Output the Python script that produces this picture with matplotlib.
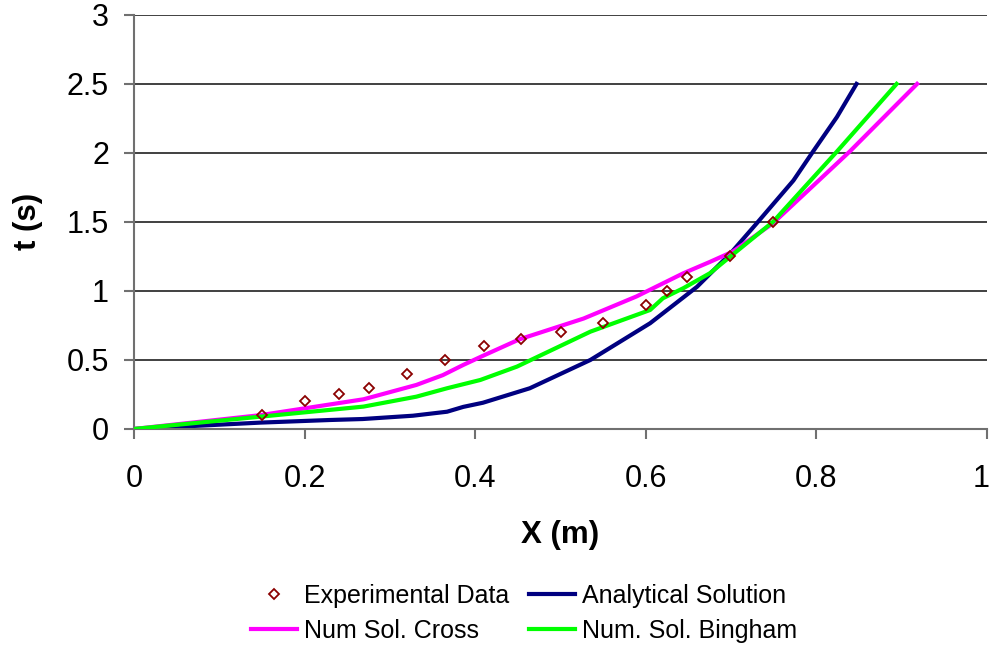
import matplotlib
matplotlib.use("Agg")
import matplotlib.pyplot as plt
import matplotlib.transforms as mtransforms

plt.rcParams['font.family'] = ['Liberation Sans', 'DejaVu Sans']

# Experimental data
exp_x = [0.15, 0.2, 0.24, 0.275, 0.32, 0.365, 0.41, 0.454, 0.5, 0.55, 0.6, 0.625, 0.648, 0.699, 0.749]
exp_t = [0.1, 0.2, 0.25, 0.3, 0.4, 0.5, 0.6, 0.65, 0.7, 0.77, 0.9, 1.0, 1.1, 1.25, 1.5]

# Analytical solution
ana_x = [0, 0.148, 0.23, 0.268, 0.327, 0.367, 0.386, 0.409, 0.464, 0.535, 0.605, 0.66, 0.699,
         0.730, 0.773, 0.796, 0.824, 0.847]
ana_t = [0, 0.046, 0.065, 0.072, 0.096, 0.125, 0.16, 0.19, 0.295, 0.5, 0.766, 1.03, 1.27,
         1.49, 1.80, 2.01, 2.26, 2.5]

# Numerical solution, Cross model
cross_x = [0, 0.148, 0.269, 0.331, 0.362, 0.386, 0.409, 0.452, 0.527, 0.589, 0.644, 0.675,
           0.702, 0.749, 0.839, 0.918]
cross_t = [0, 0.10, 0.215, 0.319, 0.39, 0.464, 0.53, 0.65, 0.80, 0.96, 1.128, 1.21,
           1.285, 1.49, 2.01, 2.5]

# Numerical solution, Bingham model
bing_x = [0, 0.148, 0.269, 0.331, 0.367, 0.406, 0.449, 0.535, 0.605, 0.620, 0.644, 0.675,
          0.699, 0.749, 0.824, 0.894]
bing_t = [0, 0.089, 0.162, 0.234, 0.295, 0.355, 0.452, 0.705, 0.862, 0.947, 1.02, 1.128,
          1.249, 1.50, 2.01, 2.5]

x_ticks = [0, 0.2, 0.4, 0.6, 0.8, 1]
x_labels = ['0', '0.2', '0.4', '0.6', '0.8', '1']
y_ticks = [0, 0.5, 1, 1.5, 2, 2.5, 3]
y_labels = ['0', '0.5', '1', '1.5', '2', '2.5', '3']

fig = plt.figure(figsize=(9.93, 6.47), dpi=100)
ax = fig.add_axes([0.135, 0.337, 0.859, 0.640])

for yv in y_ticks[1:]:
    ax.axhline(yv, color='#202020', lw=1.2, zorder=0)

h_exp, = ax.plot(exp_x, exp_t, linestyle='none', marker='D', markersize=5.5,
                 markerfacecolor='none', markeredgecolor='#8B0000', markeredgewidth=1.3,
                 label='Experimental Data', zorder=5)
h_cross, = ax.plot(cross_x, cross_t, color='#FF00FF', lw=3, label='Num Sol. Cross', zorder=3,
                   solid_joinstyle='round')
h_ana, = ax.plot(ana_x, ana_t, color='#000080', lw=3, label='Analytical Solution', zorder=2,
                 solid_joinstyle='round')
h_bing, = ax.plot(bing_x, bing_t, color='#00FF00', lw=3, label='Num. Sol. Bingham', zorder=4,
                  solid_joinstyle='round')

ax.set_xlim(0, 1)
ax.set_ylim(0, 3)
ax.set_xticks(x_ticks)
ax.set_xticklabels(x_labels)
ax.set_yticks(y_ticks)
ax.set_yticklabels(y_labels)

for s in ['top', 'right']:
    ax.spines[s].set_visible(False)
for s in ['left', 'bottom']:
    ax.spines[s].set_color('#707070')
    ax.spines[s].set_linewidth(1.5)

ax.tick_params(axis='both', colors='#707070', labelcolor='black', labelsize=22,
               length=7, width=1.5, direction='out')
ax.tick_params(axis='x', pad=18)
ax.tick_params(axis='y', pad=11)

# keep the last x tick label inside the figure
last = ax.get_xticklabels()[-1]
last.set_transform(last.get_transform() +
                   mtransforms.ScaledTranslation(-4 / 72, 0, fig.dpi_scale_trans))

ax.set_xlabel('X (m)', fontsize=22.5, fontweight='bold', labelpad=19)
ax.set_ylabel('t (s)', fontsize=22.5, fontweight='bold', labelpad=17)

fig.legend(handles=[h_exp, h_cross, h_ana, h_bing], ncol=2, loc='upper center',
           bbox_to_anchor=(0.528, 0.113), frameon=False, fontsize=18,
           handlelength=1.84, handletextpad=0.28, columnspacing=0.8,
           labelspacing=0.45, borderaxespad=0)

fig.savefig('out.png', dpi=100)
